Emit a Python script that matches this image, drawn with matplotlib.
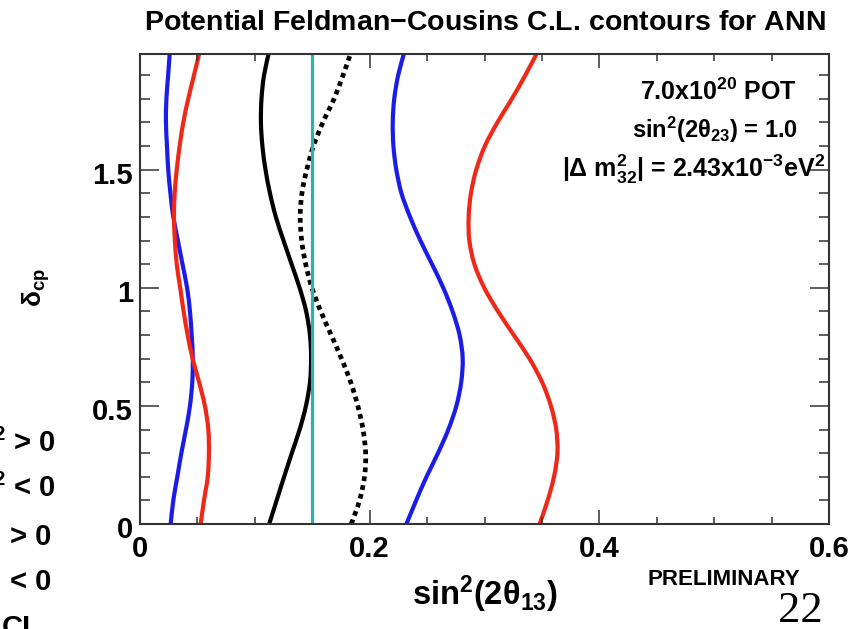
import matplotlib
matplotlib.use("Agg")
import matplotlib.pyplot as plt
from matplotlib.ticker import MultipleLocator
from matplotlib.path import Path
from matplotlib.patches import PathPatch
from matplotlib.transforms import offset_copy

plt.rcParams['font.family'] = ['Liberation Sans', 'DejaVu Sans']
plt.rcParams['mathtext.fontset'] = 'custom'
plt.rcParams['mathtext.rm'] = 'Liberation Sans:bold'
plt.rcParams['mathtext.it'] = 'Liberation Sans:bold'
plt.rcParams['mathtext.bf'] = 'Liberation Sans:bold'
plt.rcParams['mathtext.default'] = 'rm'

# delta_cp (units of pi), sampled every 0.1
delta_cp = [0.0, 0.1, 0.2, 0.3, 0.4, 0.5, 0.6, 0.7, 0.8, 0.9, 1.0,
            1.1, 1.2, 1.3, 1.4, 1.5, 1.6, 1.7, 1.8, 1.9, 2.0]

# sin^2(2theta13) of each contour at those delta_cp values
blue_low = [0.0267, 0.029, 0.0325, 0.036, 0.040, 0.0435, 0.0455, 0.046, 0.045, 0.0435, 0.041,
            0.037, 0.033, 0.029, 0.0265, 0.0246, 0.0235, 0.0226, 0.023, 0.0245, 0.026]
red_low = [0.0528, 0.0557, 0.059, 0.060, 0.0595, 0.0565, 0.0515, 0.0458, 0.0415, 0.038, 0.035,
           0.032, 0.0304, 0.0296, 0.0302, 0.032, 0.0345, 0.0377, 0.042, 0.047, 0.052]
black_solid = [0.1125, 0.119, 0.1255, 0.1322, 0.139, 0.1445, 0.148, 0.149, 0.148, 0.1447, 0.139,
               0.132, 0.125, 0.1183, 0.1132, 0.1093, 0.1066, 0.1053, 0.1058, 0.108, 0.1125]
black_dotted = [0.184, 0.1912, 0.1955, 0.1965, 0.1942, 0.1897, 0.1835, 0.1755, 0.1665, 0.1575, 0.1497,
                0.1443, 0.1408, 0.1395, 0.141, 0.1452, 0.151, 0.1592, 0.169, 0.1768, 0.184]
blue_high = [0.232, 0.2405, 0.2495, 0.2595, 0.2685, 0.2755, 0.2797, 0.281, 0.2783, 0.2722, 0.2641,
             0.2543, 0.2442, 0.2352, 0.2277, 0.2232, 0.2207, 0.2201, 0.2214, 0.2248, 0.2304]
red_high = [0.348, 0.355, 0.3605, 0.3635, 0.3625, 0.3578, 0.3502, 0.3392, 0.3255, 0.3118, 0.2998,
            0.2912, 0.2868, 0.2862, 0.2882, 0.2928, 0.3003, 0.3112, 0.3238, 0.3355, 0.3464]
best_fit = 0.15

x_ticks = [0, 0.2, 0.4, 0.6]
y_ticks = [0, 0.5, 1, 1.5]
legend_bits = ["m$^{2}$ > 0", "m$^{2}$ < 0", "> 0", "< 0", "CL"]

RED = '#f02818'
BLUE = '#1c1ce8'
CYAN = '#2fb0ac'


def smooth_curve(xs, ys, **kw):
    # catmull-rom through the read points, drawn as cubic bezier segments
    pts = list(zip(xs, ys))
    verts = [pts[0]]
    codes = [Path.MOVETO]
    for i in range(len(pts) - 1):
        p0 = pts[i - 1] if i > 0 else pts[i]
        p1, p2 = pts[i], pts[i + 1]
        p3 = pts[i + 2] if i + 2 < len(pts) else pts[i + 1]
        c1 = (p1[0] + (p2[0] - p0[0]) / 6, p1[1] + (p2[1] - p0[1]) / 6)
        c2 = (p2[0] - (p3[0] - p1[0]) / 6, p2[1] - (p3[1] - p1[1]) / 6)
        verts += [c1, c2, p2]
        codes += [Path.CURVE4] * 3
    return PathPatch(Path(verts, codes), fill=False, **kw)


fig = plt.figure(figsize=(8.64, 6.29), dpi=100)
ax = fig.add_axes([140/864, 1-524/629, (829-140)/864, (524-54)/629])

for xs, col in [(blue_low, BLUE), (red_low, RED), (black_solid, 'black'),
                (blue_high, BLUE), (red_high, RED)]:
    ax.add_patch(smooth_curve(xs, delta_cp, edgecolor=col, lw=3, capstyle='butt'))
ax.add_patch(smooth_curve(black_dotted, delta_cp, edgecolor='black', lw=3.4,
                          linestyle=(0, (1, 0.9))))
ax.axvline(best_fit, color=CYAN, lw=2.3)

ax.set_xlim(0, 0.6)
ax.set_ylim(0, 1.99)
ax.xaxis.set_major_locator(MultipleLocator(0.2))
ax.xaxis.set_minor_locator(MultipleLocator(0.05))
ax.yaxis.set_major_locator(MultipleLocator(0.5))
ax.yaxis.set_minor_locator(MultipleLocator(0.1))
ax.set_xticklabels([])
ax.set_yticklabels([])

xlab_tr = offset_copy(ax.get_xaxis_transform(), fig=fig, x=0, y=-33, units='dots')
for v in x_ticks:
    ax.text(v, 0, f"{v:g}", transform=xlab_tr, ha='center', va='baseline',
            fontsize=21, fontweight='bold')
ylab_tr = offset_copy(ax.get_yaxis_transform(), fig=fig, x=-7, y=-14, units='dots')
for v in y_ticks:
    ax.text(0, v, f"{v:g}", transform=ylab_tr, ha='right', va='baseline',
            fontsize=21, fontweight='bold')

ax.tick_params(which='both', direction='in', top=True, right=True, width=1.1, color='#333333')
ax.tick_params(axis='x', which='major', length=10)
ax.tick_params(axis='x', which='minor', length=5)
ax.tick_params(axis='y', which='major', length=13.5)
ax.tick_params(axis='y', which='minor', length=7)
for s in ax.spines.values():
    s.set_linewidth(1.5)
    s.set_color('#333333')

fig.text(485/864, 1-30/629, "Potential Feldman$-$Cousins C.L. contours for ANN",
         ha='center', va='baseline', fontsize=20.5, fontweight='bold')

fig.text(797/864, 1-100/629, "7.0x10$^{20}$ POT", ha='right', va='baseline',
         fontsize=18, fontweight='bold')
fig.text(798/864, 1-138/629, "sin$^{2}$(2θ$_{23}$) = 1.0", ha='right', va='baseline',
         fontsize=17, fontweight='bold')
fig.text(825/864, 1-177/629, "|Δ m$^{2}_{32}$| = 2.43x10$^{-3}$eV$^{2}$", ha='right', va='baseline',
         fontsize=18, fontweight='bold')

fig.text(36/864, 1-287/629, "δ$_{cp}$", rotation=90, ha='center', va='center',
         fontsize=19, fontweight='bold')
fig.text(485/864, 1-605/629, "sin$^{2}$(2θ$_{13}$)", ha='center', va='baseline',
         fontsize=23.5, fontweight='bold')
fig.text(800/864, 1-585/629, "PRELIMINARY", ha='right', va='baseline',
         fontsize=16, fontweight='bold')
fig.text(800/864, 1-622/629, "22", ha='center', va='baseline',
         fontsize=32, family='Liberation Serif')

legend_base = [452, 497, 545, 590, 636]
legend_right = [56, 56, 51, 51, 41]
for txt, yy, xr in zip(legend_bits, legend_base, legend_right):
    fig.text(xr/864, 1-yy/629, txt, ha='right', va='baseline', fontsize=21, fontweight='bold')

fig.savefig("out.png", dpi=100)
